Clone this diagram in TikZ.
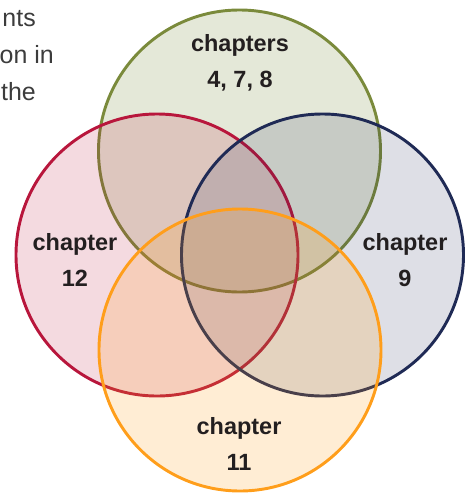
\documentclass[tikz,border=0pt]{standalone}
\usepackage{fontspec}
\setmainfont{Liberation Sans}
\usetikzlibrary{positioning}
\definecolor{verde}{HTML}{7A8A3B}
\definecolor{carmim}{HTML}{B8163C}
\definecolor{marinho}{HTML}{1F2A55}
\definecolor{laranja}{HTML}{FF9E1B}
\definecolor{rotulo}{HTML}{231F20}
\definecolor{cinza}{HTML}{3C3C3C}
\tikzset{
  conjunto/.style={circle, minimum size=211.5pt, inner sep=0pt, line width=2.2pt},
  rot/.style={align=center, text=rotulo, font=\fontsize{17.6}{27}\selectfont\bfseries},
  texto/.style={anchor=base east, text=cinza, inner sep=0pt, font=\fontsize{18.7}{22}\selectfont}
}
\begin{document}
\begin{tikzpicture}[x=0.75pt,y=-0.75pt]
    \useasboundingbox (0,0) rectangle (469,493);

        % Texto cortado
        \foreach \pos/\name/\txt in {{(36,26)/ta/nts}, {(54,63)/tb/on in}, {(36,100)/tc/the}}
            \node[texto] (\name) at \pos {\txt};

        % Definindo conjuntos
        \foreach \pos/\name/\cor/\op in {{(239.5,151)/A/verde/0.2}, {(157,255)/B/carmim/0.16},
                                         {(322.5,255)/C/marinho/0.15}, {(240,350)/D/laranja/0.19}}
            \node[conjunto, draw=\cor, fill=\cor, fill opacity=\op] (\name) at \pos {};

        % Rotulos
        \node[rot] (lA) at (240,63) {chapters\\4, 7, 8};
        \node[rot] (lB) at (75,260) {chapter\\12};
        \node[rot] (lC) at (405,260) {chapter\\9};
        \node[rot] (lD) at (239,444) {chapter\\11};

    \end{tikzpicture}
\end{document}
